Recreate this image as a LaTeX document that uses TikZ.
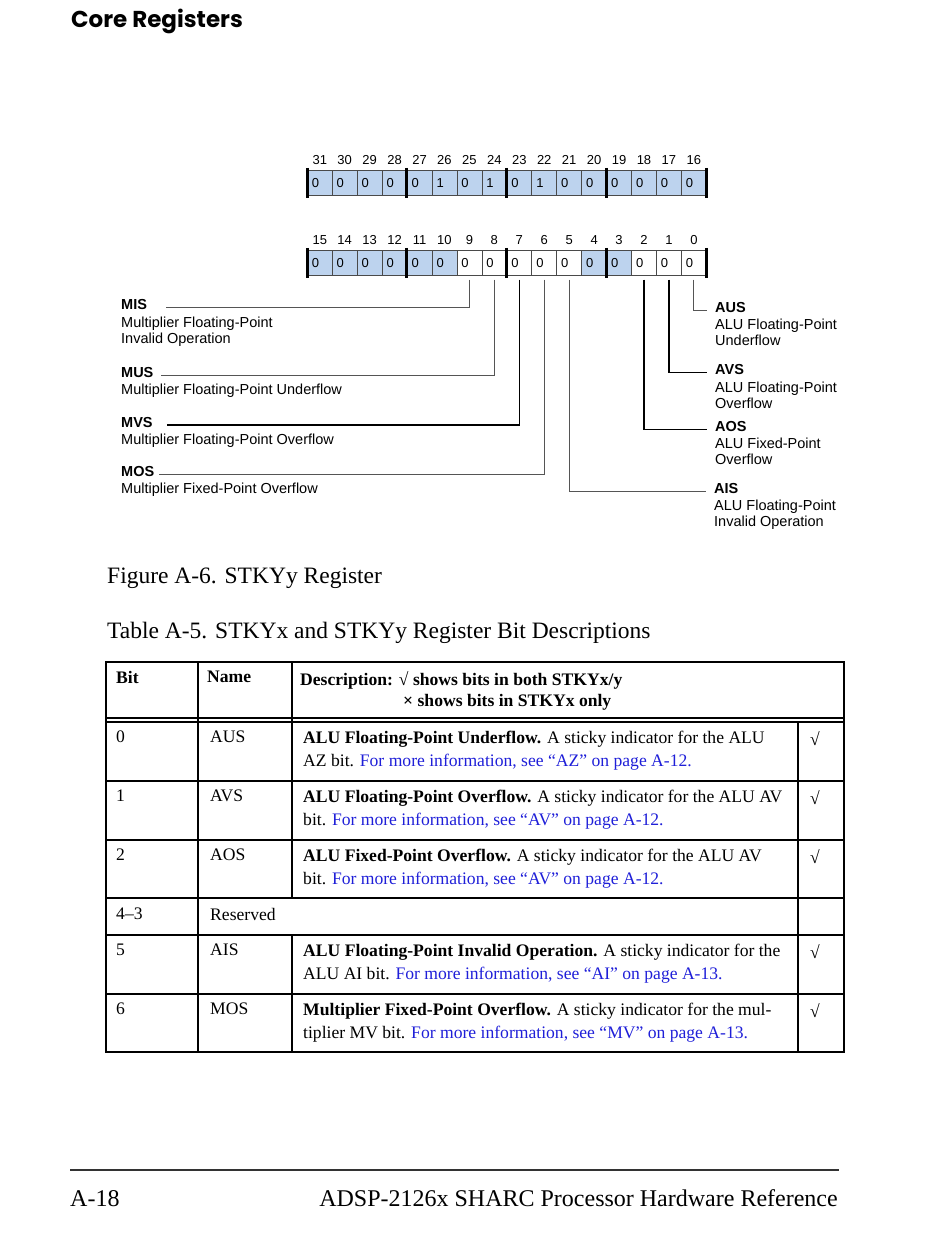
\documentclass[tikz,border=0pt]{standalone}
\usepackage{fontspec}
\setmainfont{Liberation Serif}
\setsansfont{Liberation Sans}
\newfontfamily\headfont{Poppins}
\usetikzlibrary{positioning}
\definecolor{cellb}{HTML}{BDD3EE}
\definecolor{cellline}{HTML}{4A4A4A}
\definecolor{leadc}{HTML}{555555}
\definecolor{linkc}{HTML}{1F1FD8}
\definecolor{rulec}{HTML}{333333}
\newcommand\lnk[1]{\textcolor{linkc}{#1}}

\begin{document}
\begin{tikzpicture}[
    x=1pt,y=-1pt,
    cell/.style={draw=cellline,line width=0.6pt,minimum width=24.94pt,minimum height=25pt,
      text width=15.94pt,inner xsep=4.5pt,inner ysep=0pt,align=left,
      font=\sffamily\fontsize{13}{14}\selectfont},
    bitno/.style={inner sep=0pt,font=\sffamily\fontsize{13}{14}\selectfont},
    nibsep/.style={line width=3pt,black},
    lname/.style={inner sep=0pt,anchor=north west,font=\sffamily\bfseries\fontsize{14.5}{16}\selectfont},
    ldesc/.style={inner sep=0pt,align=left,font=\sffamily\fontsize{14.5}{16}\selectfont},
    leadthin/.style={draw=leadc,line width=0.8pt},
    leadthick/.style={draw=black,line width=1.4pt},
    capt/.style={inner sep=0pt,anchor=base west,font=\fontsize{23.5}{27}\selectfont},
    tcell/.style={inner sep=0pt,anchor=north west,align=left,font=\fontsize{17.6}{23}\selectfont},
    thead/.style={tcell,font=\bfseries\fontsize{17.6}{23}\selectfont},
    tline/.style={black,line width=1.1pt},
  ]
\useasboundingbox (0,0) rectangle (950,1246);

% ======================= page head =======================
\node[inner sep=0pt,anchor=north west,font=\headfont\bfseries\fontsize{23}{27}\selectfont]
  (title) at (71,9) {Core Registers};

% ======================= register, bits 31-16 =======================
\foreach \b/\v/\f [evaluate=\b as \x using 307+(31-\b)*24.94] in
  {31/0/cellb,30/0/cellb,29/0/cellb,28/0/cellb,27/0/cellb,26/1/cellb,25/0/cellb,24/1/cellb,
   23/0/cellb,22/1/cellb,21/0/cellb,20/0/cellb,19/0/cellb,18/0/cellb,17/0/cellb,16/0/cellb}{
  \node[cell,fill=\f,anchor=north west] (b\b) at (\x,170) {\v};
  \node[bitno,anchor=base] (n\b) at ([yshift=5pt]b\b.north) {\b};
}

% ======================= register, bits 15-0 =======================
\foreach \b/\f [evaluate=\b as \x using 307+(15-\b)*24.94] in
  {15/cellb,14/cellb,13/cellb,12/cellb,11/cellb,10/cellb,9/white,8/white,
   7/white,6/white,5/white,4/cellb,3/cellb,2/white,1/white,0/white}{
  \node[cell,fill=\f,anchor=north west] (b\b) at (\x,250) {0};
  \node[bitno,anchor=base] (n\b) at ([yshift=5pt]b\b.north) {\b};
}

% thick bars between the nibbles
\foreach \b in {31,27,23,19,15,11,7,3}
  \draw[nibsep] ([yshift=2pt]b\b.north west) -- ([yshift=-2pt]b\b.south west);
\foreach \b in {16,0}
  \draw[nibsep] ([yshift=2pt]b\b.north east) -- ([yshift=-2pt]b\b.south east);

% ======================= bit labels, left =======================
\node[lname] (mis) at (121,299.3) {MIS};
\node[ldesc,below=6.5pt of mis.south west,anchor=north west] (misd)
  {Multiplier Floating-Point\\Invalid Operation};
\node[lname] (mus) at (121,366.7) {MUS};
\node[ldesc,below=6.5pt of mus.south west,anchor=north west] (musd)
  {Multiplier Floating-Point Underflow};
\node[lname] (mvs) at (121,416.7) {MVS};
\node[ldesc,below=6.5pt of mvs.south west,anchor=north west] (mvsd)
  {Multiplier Floating-Point Overflow};
\node[lname] (mos) at (121,466) {MOS};
\node[ldesc,below=6.5pt of mos.south west,anchor=north west] (mosd)
  {Multiplier Fixed-Point Overflow};

% ======================= bit labels, right =======================
\node[lname] (aus) at (715,301.7) {AUS};
\node[ldesc,below=6.5pt of aus.south west,anchor=north west] (ausd)
  {ALU Floating-Point\\Underflow};
\node[lname] (avs) at (715,364.3) {AVS};
\node[ldesc,below=6.5pt of avs.south west,anchor=north west] (avsd)
  {ALU Floating-Point\\Overflow};
\node[lname] (aos) at (715,421) {AOS};
\node[ldesc,below=6.5pt of aos.south west,anchor=north west] (aosd)
  {ALU Fixed-Point\\Overflow};
\node[lname] (ais) at (714,482.7) {AIS};
\node[ldesc,below=6.5pt of ais.south west,anchor=north west] (aisd)
  {ALU Floating-Point\\Invalid Operation};

% leaders from the bits to their names
\draw[leadthin]  ([yshift=-4pt]b9.south) |- ([xshift=19pt,yshift=2pt]mis.base east);
\draw[leadthin]  ([yshift=-4pt]b8.south) |- ([xshift=7pt,yshift=2pt]mus.base east);
\draw[leadthick] ([yshift=-4pt]b7.south) |- ([xshift=14pt,yshift=2pt]mvs.base east);
\draw[leadthin]  ([yshift=-4pt]b6.south) |- ([xshift=5pt,yshift=2pt]mos.base east);
\draw[leadthin]  ([yshift=-4pt]b0.south) |- ([xshift=-8pt,yshift=2pt]aus.base west);
\draw[leadthick] ([yshift=-4pt]b1.south) |- ([xshift=-8pt,yshift=2pt]avs.base west);
\draw[leadthick] ([yshift=-4pt]b2.south) |- ([xshift=-8pt,yshift=2pt]aos.base west);
\draw[leadthin]  ([yshift=-4pt]b5.south) |- ([xshift=-8pt,yshift=2pt]ais.base west);

% ======================= captions =======================
\node[capt] (figcap) at (107,583) {Figure A-6. STKYy Register};
\node[capt] (tabcap) at (107,638) {Table A-5. STKYx and STKYy Register Bit Descriptions};

% ======================= table =======================
\draw[tline] (106,662) rectangle (844,1052);
\draw[tline] (106,718) -- (844,718);
\draw[tline] (106,722) -- (844,722);
\foreach \y in {781,840,898,935,994}
  \draw[tline] (106,\y) -- (844,\y);
\draw[tline] (198,662) -- (198,1052);
\draw[tline] (292,662) -- (292,898);
\draw[tline] (292,935) -- (292,1052);
\draw[tline] (798,722) -- (798,1052);

\node[thead] (hbit) at (116,671) {Bit};
\node[thead] (hname) at (207,671) {Name};
\node[thead] (hdesc) at (300,671) {Description: √ shows bits in both STKYx/y};
\node[thead] (hdesc2) at (403,694) {× shows bits in STKYx only};

\node[tcell] (bit0) at (116,731) {0};
\node[tcell] (nm0) at (210,731) {AUS};
\node[tcell] (ds0) at (303,731)
  {\textbf{ALU Floating-Point Underflow.} A sticky indicator for the ALU\\
   AZ bit. \lnk{For more information, see “AZ” on page A-12.}};
\node[tcell] (ck0) at (810,731) {√};

\node[tcell] (bit1) at (116,790) {1};
\node[tcell] (nm1) at (210,790) {AVS};
\node[tcell] (ds1) at (303,790)
  {\textbf{ALU Floating-Point Overflow.} A sticky indicator for the ALU AV\\
   bit. \lnk{For more information, see “AV” on page A-12.}};
\node[tcell] (ck1) at (810,790) {√};

\node[tcell] (bit2) at (116,849) {2};
\node[tcell] (nm2) at (210,849) {AOS};
\node[tcell] (ds2) at (303,849)
  {\textbf{ALU Fixed-Point Overflow.} A sticky indicator for the ALU AV\\
   bit. \lnk{For more information, see “AV” on page A-12.}};
\node[tcell] (ck2) at (810,849) {√};

\node[tcell] (bit34) at (116,908) {4–3};
\node[tcell] (nm34) at (210,908) {Reserved};

\node[tcell] (bit5) at (116,944) {5};
\node[tcell] (nm5) at (210,944) {AIS};
\node[tcell] (ds5) at (303,944)
  {\textbf{ALU Floating-Point Invalid Operation.} A sticky indicator for the\\
   ALU AI bit. \lnk{For more information, see “AI” on page A-13.}};
\node[tcell] (ck5) at (810,944) {√};

\node[tcell] (bit6) at (116,1003) {6};
\node[tcell] (nm6) at (210,1003) {MOS};
\node[tcell] (ds6) at (303,1003)
  {\textbf{Multiplier Fixed-Point Overflow.} A sticky indicator for the mul-\\
   tiplier MV bit. \lnk{For more information, see “MV” on page A-13.}};
\node[tcell] (ck6) at (810,1003) {√};

% ======================= page foot =======================
\draw[rulec,line width=2pt] (70,1170) -- (839,1170);
\node[inner sep=0pt,anchor=base west,font=\fontsize{24}{28}\selectfont] (pgno) at (70,1206) {A-18};
\node[inner sep=0pt,anchor=base east,font=\fontsize{24}{28}\selectfont] (book) at (838,1206)
  {ADSP-2126x SHARC Processor Hardware Reference};

\end{tikzpicture}
\end{document}
